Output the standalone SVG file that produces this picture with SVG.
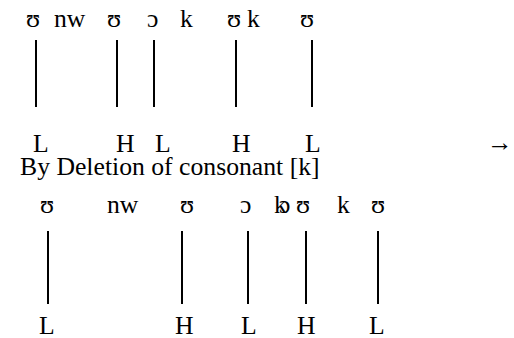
<svg xmlns="http://www.w3.org/2000/svg" width="514" height="338" viewBox="0 0 514 338">
<style>
text{font-family:'Liberation Serif','DejaVu Serif',serif;font-size:25.7px;fill:#000}
.l{stroke:#000;stroke-width:2}
</style>
<rect width="514" height="338" fill="#fff"/>
<g id="top-segments">
<text x="26" y="27">ʊ</text>
<text x="54" y="27">nw</text>
<text x="107" y="27">ʊ</text>
<text x="147" y="27">ɔ</text>
<text x="180" y="27">k</text>
<text x="227" y="27">ʊ</text>
<text x="247" y="27">k</text>
<text x="300" y="27">ʊ</text>
</g>
<g id="top-tones">
<text x="33" y="152">L</text>
<text x="116" y="152">H</text>
<text x="155" y="152">L</text>
<text x="232" y="152">H</text>
<text x="305" y="152">L</text>
<text x="487" y="151" font-size="30">→</text>
</g>
<g id="caption">
<text x="20" y="175">By Deletion of consonant [k]</text>
</g>
<g id="bottom-segments">
<text x="40" y="213">ʊ</text>
<text x="107" y="213">nw</text>
<text x="180" y="213">ʊ</text>
<text x="240" y="213">ɔ</text>
<text x="274" y="213">k</text>
<text x="279" y="213" font-size="15">ɔ</text>
<text x="296" y="213">ʊ</text>
<text x="337" y="213">k</text>
<text x="371" y="213">ʊ</text>
</g>
<g id="bottom-tones">
<text x="39" y="334">L</text>
<text x="175" y="334">H</text>
<text x="241" y="334">L</text>
<text x="297" y="334">H</text>
<text x="369" y="334">L</text>
</g>
<g id="connectors" class="l">
<line x1="36" y1="40" x2="36" y2="107"/>
<line x1="117" y1="40" x2="117" y2="107"/>
<line x1="154" y1="40" x2="154" y2="107"/>
<line x1="236" y1="40" x2="236" y2="107"/>
<line x1="312" y1="40" x2="312" y2="107"/>
<line x1="48" y1="231" x2="48" y2="304"/>
<line x1="182" y1="231" x2="182" y2="304"/>
<line x1="248" y1="231" x2="248" y2="304"/>
<line x1="306" y1="231" x2="306" y2="304"/>
<line x1="378" y1="231" x2="378" y2="304"/>
</g>
</svg>
